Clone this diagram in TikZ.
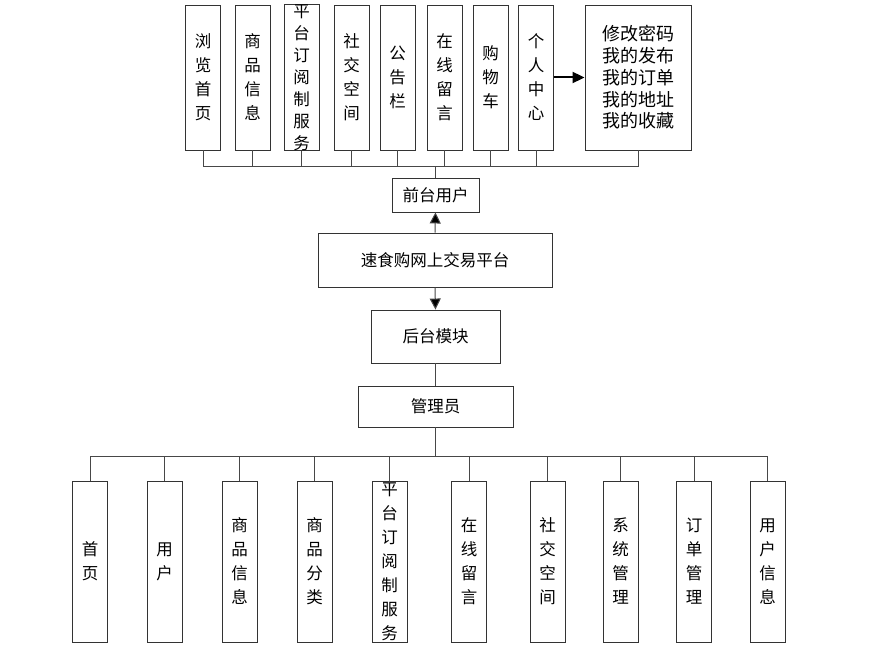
\documentclass[tikz,border=0pt]{standalone}
\usepackage{fontspec}
\setmainfont{Noto Sans CJK SC}
\usetikzlibrary{arrows.meta}
\begin{document}
\begin{tikzpicture}[x=1pt,y=-1pt,
  box/.style={draw=black!80, line width=0.9pt, fill=white, inner sep=0pt,
    font=\fontsize{16.5}{24}\selectfont, align=center},
  vbox/.style={box, minimum width=35pt},
  topbox/.style={vbox, minimum height=145pt},
  botbox/.style={vbox, minimum height=161pt},
  conn/.style={draw=black!72, line width=1pt},
  tip/.style={-{Triangle[length=11pt,width=11pt,fill=black]}}]
\useasboundingbox (0,0) rectangle (879,652);

% top row
\node[topbox] (t1) at (203,77.5) {浏\\览\\首\\页};
\node[topbox] (t2) at (252.5,77.5) {商\\品\\信\\息};
\node[topbox, font=\fontsize{16.5}{22}\selectfont] (t3) at (301.5,77.5) {平\\台\\订\\阅\\制\\服\\务};
\node[topbox] (t4) at (351.5,77.5) {社\\交\\空\\间};
\node[topbox] (t5) at (397.5,77.5) {公\\告\\栏};
\node[topbox] (t6) at (444.5,77.5) {在\\线\\留\\言};
\node[topbox] (t7) at (490.5,77.5) {购\\物\\车};
\node[topbox] (t8) at (536,77.5) {个\\人\\中\\心};
\node[box, minimum width=106pt, minimum height=145pt, font=\fontsize{18}{21.7}\selectfont] (t9) at (638,77.5)
  {修改密码\\我的发布\\我的订单\\我的地址\\我的收藏};

% middle column
\node[box, minimum width=87pt, minimum height=34pt] (front) at (435.5,195) {前台用户};
\node[box, minimum width=234pt, minimum height=54pt] (main) at (435,260) {速食购网上交易平台};
\node[box, minimum width=129pt, minimum height=53pt] (back) at (435.5,336.5) {后台模块};
\node[box, minimum width=155pt, minimum height=41pt] (admin) at (435.5,406.5) {管理员};

% bottom row
\node[botbox] (b1) at (90,561.5) {首\\页};
\node[botbox] (b2) at (164.5,561.5) {用\\户};
\node[botbox] (b3) at (239.5,561.5) {商\\品\\信\\息};
\node[botbox] (b4) at (314.5,561.5) {商\\品\\分\\类};
\node[botbox] (b5) at (389.5,561.5) {平\\台\\订\\阅\\制\\服\\务};
\node[botbox] (b6) at (469,561.5) {在\\线\\留\\言};
\node[botbox] (b7) at (547.5,561.5) {社\\交\\空\\间};
\node[botbox] (b8) at (620.5,561.5) {系\\统\\管\\理};
\node[botbox] (b9) at (694,561.5) {订\\单\\管\\理};
\node[botbox] (b10) at (767.5,561.5) {用\\户\\信\\息};

\coordinate (busT) at (0,167);
\coordinate (busB) at (0,457);

% top bus
\foreach \n in {t1,t2,t3,t4,t5,t6,t7,t8,t9}
  \draw[conn] (\n.south) -- (\n.south |- busT);
\draw[conn] (t1.south |- busT) -- (t9.south |- busT);
\draw[conn] (front.north) -- (front.north |- busT);

% arrow to personal center items
\draw[draw=black, line width=2pt, -{Triangle[length=12pt,width=11pt]}] (t8.east) -- (t9.west);

% middle arrows
\draw[conn, tip] (main.north) -- (front.south);
\draw[conn, tip] (main.south) -- (back.north);
\draw[conn] (back.south) -- (admin.north);

% bottom bus
\draw[conn] (admin.south) -- (admin.south |- busB);
\draw[conn] (b1.north |- busB) -- (b10.north |- busB);
\foreach \n in {b1,b2,b3,b4,b5,b6,b7,b8,b9,b10}
  \draw[conn] (\n.north) -- (\n.north |- busB);
\end{tikzpicture}
\end{document}
